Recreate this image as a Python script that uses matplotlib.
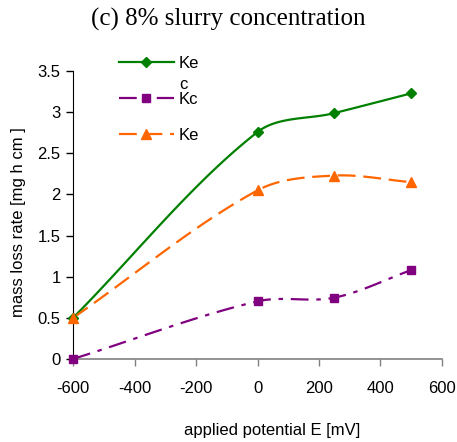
import numpy as np
import matplotlib
matplotlib.use("Agg")
import matplotlib.pyplot as plt

# data
potential = [-600, 0, 250, 500]
kec = [0.50, 2.76, 2.99, 3.23]
kc = [0.00, 0.70, 0.745, 1.08]
ke = [0.50, 2.05, 2.23, 2.15]

series_labels = ["Ke", "Kc", "Ke"]
x_ticks = [-600, -400, -200, 0, 200, 400, 600]
y_ticks = [0, 0.5, 1, 1.5, 2, 2.5, 3, 3.5]


def smooth(ax, xs, ys, n=40):
    # excel-like smoothed line, built in screen space so the shape follows the axes
    p = ax.transData.transform(np.column_stack([xs, ys]).astype(float))
    out = [p[0]]
    t = np.linspace(0, 1, n)[1:, None]
    for i in range(len(p) - 1):
        p0 = p[i - 1] if i > 0 else p[i]
        p3 = p[i + 2] if i + 2 < len(p) else p[i + 1]
        d01 = np.hypot(*(p[i] - p0))
        d12 = np.hypot(*(p[i + 1] - p[i]))
        d23 = np.hypot(*(p3 - p[i + 1]))
        f1 = d12 / (d01 + d12) if d01 + d12 > 0 else 0
        f2 = d12 / (d12 + d23) if d12 + d23 > 0 else 0
        c1 = p[i] + (p[i + 1] - p0) * f1 / 3
        c2 = p[i + 1] - (p3 - p[i]) * f2 / 3
        seg = ((1 - t) ** 3 * p[i] + 3 * (1 - t) ** 2 * t * c1
               + 3 * (1 - t) * t ** 2 * c2 + t ** 3 * p[i + 1])
        out.extend(seg)
    out = ax.transData.inverted().transform(np.array(out))
    return out[:, 0], out[:, 1]


plt.rcParams['font.family'] = ['Liberation Sans', 'DejaVu Sans']
fig = plt.figure(figsize=(4.57, 4.42), dpi=100)
ax = fig.add_axes([0.16, 0.188, 0.807, 0.651])
ax.set_xlim(-600, 600)
ax.set_ylim(0, 3.5)

green = "#008000"
purple = "#800080"
orange = "#FF6600"

styles = [
    (kec, green, "-", "D", 5.5),
    (kc, purple, (0, (8, 3.5, 2, 3.5)), "s", 5.5),
    (ke, orange, (0, (8, 3.5)), "^", 7),
]

handles = []
for (vals, col, ls, mk, ms), lab in zip(styles, series_labels):
    sx, sy = smooth(ax, potential, vals)
    ax.plot(sx, sy, color=col, lw=1.6, linestyle=ls, zorder=2)
    ax.plot(potential, vals, linestyle="none", marker=mk, ms=ms,
            color=col, zorder=3, clip_on=False)
    h, = ax.plot([], [], color=col, lw=1.6, linestyle=ls, marker=mk,
                 ms=ms, label=lab)
    handles.append(h)

ax.set_xlim(-600, 600)
ax.set_ylim(0, 3.5)
ax.set_xticks(x_ticks)
ax.set_yticks(y_ticks)
ax.set_xticklabels([str(v) for v in x_ticks])
ax.set_yticklabels([f"{v:g}" for v in y_ticks])
ax.tick_params(labelsize=12, direction="out", length=5, width=1,
               colors="black")
ax.tick_params(axis="x", pad=11, color="#808080")
ax.tick_params(axis="y", pad=4)

ax.spines["top"].set_visible(False)
ax.spines["right"].set_visible(False)
ax.spines["bottom"].set_color("#808080")
ax.spines["bottom"].set_linewidth(1.2)
ax.spines["left"].set_color("black")

ax.set_xlabel("applied potential E [mV]", fontsize=12)
ax.set_ylabel("mass loss rate [mg h cm ]", fontsize=12)
ax.xaxis.set_label_coords(0.539, -0.222)
ax.yaxis.set_label_coords(-0.128, 0.476)

fig.text(0.5, 0.955, "(c) 8% slurry concentration", ha="center",
         va="center", fontsize=18, family=["Liberation Serif"])

leg = ax.legend(handles=handles, loc="upper left",
                bbox_to_anchor=(0.26, 0.873), bbox_transform=fig.transFigure,
                frameon=False, fontsize=12, labelspacing=1.25,
                handlelength=3.3, handletextpad=0.3, borderpad=0,
                borderaxespad=0)
fig.canvas.draw()
ax.annotate("c", xy=(0, 0), xycoords=leg.get_texts()[0],
            xytext=(0, -4.5), textcoords="offset points",
            va="top", ha="left", fontsize=12, zorder=6)

fig.savefig("out.png", dpi=100)
